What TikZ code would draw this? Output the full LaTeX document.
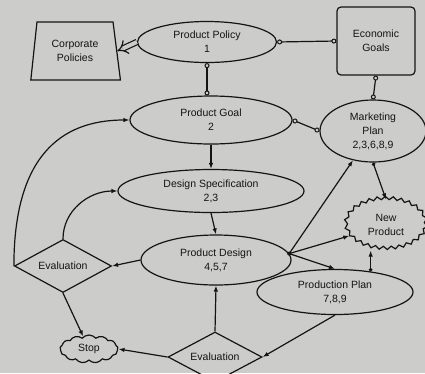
\documentclass[tikz,border=0pt]{standalone}
\usepackage{fontspec}
\setmainfont{Liberation Sans}
\usetikzlibrary{shapes.geometric,shapes.symbols,arrows.meta,decorations.pathmorphing}
\definecolor{paper}{RGB}{204,204,202}
\definecolor{ink}{RGB}{20,20,20}
\begin{document}
\begin{tikzpicture}[x=1pt,y=-1pt,
  every node/.style={font=\fontsize{10.5}{14}\selectfont, text=ink, align=center},
  box/.style={draw=ink, line width=1.2pt, inner sep=0pt},
  ell/.style={box, ellipse},
  conn/.style={draw=ink, line width=1.2pt},
  arr/.style={conn, -{Latex[length=6pt,width=4.5pt]}},
  darr/.style={conn, {Circle[length=3.5pt]}-{Latex[length=6pt,width=4.5pt]}},
  link/.style={conn, {Circle[open,length=5pt,line width=1pt]}-{Circle[open,length=5pt,line width=1pt]}},
]
\fill[paper] (0,0) rectangle (425,373);
\useasboundingbox (0,0) rectangle (425,373);

\node[box, trapezium, trapezium left angle=80, trapezium right angle=78, trapezium stretches=true, minimum width=90pt, minimum height=58pt] (cp) at (75,51) {Corporate\\Policies};
\node[ell, minimum width=139pt, minimum height=41pt] (pp) at (207,42) {Product Policy\\1};
\node[box, rounded corners=4pt, minimum width=78pt, minimum height=68pt] (eg) at (376,41) {Economic\\Goals};
\node[ell, minimum width=162pt, minimum height=48pt] (pg) at (211,120) {Product Goal\\2};
\node[ell, minimum width=106pt, minimum height=62pt] (mp) at (373,131) {Marketing\\Plan\\2,3,6,8,9};
\node[ell, minimum width=186pt, minimum height=43pt] (ds) at (211,191) {Design Specification\\2,3};
\node[ell, minimum width=150pt, minimum height=50pt] (pd) at (216,260) {Product Design\\4,5,7};
\node[box, diamond, aspect=1.85, minimum width=97pt, minimum height=53pt] (ev1) at (63,266) {Evaluation};
\node[box, diamond, aspect=1.85, minimum width=94pt, minimum height=50pt] (ev2) at (215,357) {Evaluation};
\node[box, cloud, cloud puffs=13, cloud puff arc=100, aspect=2.2, minimum width=58pt, minimum height=28pt] (stop) at (89,349) {Stop};
\node[ell, minimum width=156pt, minimum height=45pt] (prp) at (335,292) {Production Plan\\7,8,9};
\node[box, ellipse, minimum width=80pt, minimum height=50pt, decorate, decoration={snake, amplitude=1.6pt, segment length=8pt}] (np) at (386,225) {New\\Product};

\draw[conn, double=paper, double distance=4pt, -{Implies}] (pp.west) -- (cp.east);
\draw[link] (pp.east) -- (eg.west);
\draw[link] (pp.south) -- (pp.south |- pg.north);
\draw[link] (eg.south) -- (mp.north);
\draw[link] (pg.east) -- (mp.west);

\draw[arr] (pg.south) -- (ds.north);
\draw[arr] (ds.south) -- (pd.north);
\draw[arr] (pd.west) -- (ev1.east);
\draw[arr] (ev1.north) to[out=90,in=180] (ds.west);
\draw[arr] (ev1.west) .. controls +(0,-108) and +(-70,0) .. (pg.west);
\draw[arr] (ev1.south) -- (stop);
\draw[arr] (ev2.west) -- (stop.east);
\draw[arr] (ev2.north) -- (pd.south);
\draw[arr] (prp.south) -- (ev2.east);

\coordinate (pdj) at (pd.5);
\fill[ink] (pdj) circle (2pt);
\draw[arr] (pdj) -- (mp);
\draw[arr] (pdj) -- (np);
\draw[arr] (pdj) -- (prp.north);
\draw[darr] (mp.south) -- (np.north);
\draw[darr] (prp.30) -- (prp.30 |- np.south);
\end{tikzpicture}
\end{document}
